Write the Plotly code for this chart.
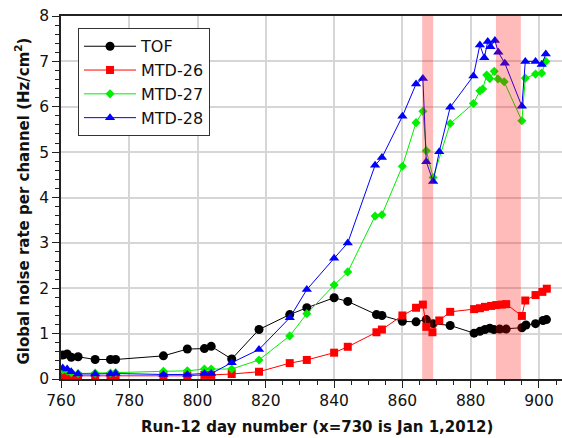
import plotly.graph_objects as go

# ---- data ----
tof_x = [760.5, 761.8, 763, 765, 770, 774.5, 776, 790, 797, 802, 804, 810, 818, 827, 832, 840, 844,
         852.4, 854, 860, 864, 867, 869, 874, 881, 882.7, 884.2, 885.6, 886.8, 888.5, 890.4, 895, 896.2,
         899, 901.2, 902.2]
tof_y = [0.53, 0.55, 0.48, 0.49, 0.43, 0.43, 0.43, 0.51, 0.66, 0.67, 0.72, 0.44, 1.09, 1.42, 1.57, 1.79, 1.71,
         1.42, 1.40, 1.27, 1.26, 1.31, 1.22, 1.18, 1.01, 1.05, 1.09, 1.12, 1.09, 1.10, 1.10, 1.13, 1.19,
         1.22, 1.29, 1.31]

m26_x = [760.5, 761.8, 763, 765, 770, 774.5, 776, 790, 797, 802, 804, 810, 818, 827, 832, 840, 844,
         852.4, 854, 860, 864, 866, 867, 868.8, 870.8, 874, 881, 882.7, 884.2, 886, 887.5, 889.1, 890.4,
         895, 896, 899, 901, 902.3]
m26_y = [0.07, 0.07, 0.06, 0.06, 0.06, 0.06, 0.06, 0.07, 0.07, 0.09, 0.09, 0.11, 0.16, 0.35, 0.42, 0.58, 0.71,
         1.03, 1.09, 1.40, 1.57, 1.64, 1.15, 1.03, 1.29, 1.48, 1.54, 1.56, 1.59, 1.61, 1.63, 1.64, 1.65,
         1.39, 1.73, 1.85, 1.92, 1.99]

m27_x = [760.5, 761.8, 763, 765, 770, 774.5, 776, 790, 797, 802, 804, 810, 818, 827, 832, 840, 844,
         852, 854, 860, 864, 866, 867, 869, 874, 880.8, 882.7, 883.5, 884.7, 885.6, 886.9, 888, 889.8,
         895, 896, 899, 900.8, 902]
m27_y = [0.20, 0.18, 0.14, 0.12, 0.13, 0.13, 0.14, 0.17, 0.18, 0.22, 0.22, 0.22, 0.42, 0.95, 1.44, 2.07, 2.36,
         3.59, 3.62, 4.69, 5.65, 5.90, 5.03, 4.44, 5.63, 6.07, 6.35, 6.39, 6.70, 6.62, 6.78, 6.61, 6.55,
         5.69, 6.63, 6.72, 6.74, 7.00]

m28_x = [760.5, 761.8, 763, 765, 770, 774.5, 776, 790, 797, 802, 804, 810, 818, 827, 832, 840, 844,
         852, 854, 860, 864, 866, 867, 869, 870.8, 874, 880.8, 882.7, 884, 885, 885.8, 887.1, 888.1, 890,
         895, 896, 899, 900.8, 902]
m28_y = [0.24, 0.22, 0.16, 0.11, 0.11, 0.11, 0.12, 0.10, 0.10, 0.12, 0.12, 0.36, 0.65, 1.35, 1.97, 2.66, 3.00,
         4.71, 4.88, 5.79, 6.50, 6.62, 4.79, 4.35, 5.01, 5.99, 6.68, 7.36, 7.08, 7.44, 7.32, 7.46, 7.20, 6.96,
         6.01, 7.00, 7.00, 6.93, 7.16]

bands = [(865.8, 869.0), (887.4, 894.7)]

x_ticks = [760, 780, 800, 820, 840, 860, 880, 900]
y_ticks = [0, 1, 2, 3, 4, 5, 6, 7, 8]

FONT = "DejaVu Sans"

fig = go.Figure()
fig.add_trace(go.Scatter(x=tof_x, y=tof_y, name="TOF", mode="lines+markers",
                         line=dict(color="black", width=1),
                         marker=dict(symbol="circle", size=9, color="black")))
fig.add_trace(go.Scatter(x=m26_x, y=m26_y, name="MTD-26", mode="lines+markers",
                         line=dict(color="red", width=1),
                         marker=dict(symbol="square", size=8, color="red")))
fig.add_trace(go.Scatter(x=m27_x, y=m27_y, name="MTD-27", mode="lines+markers",
                         line=dict(color="#00ee00", width=1),
                         marker=dict(symbol="diamond", size=7, color="#00ee00")))
fig.add_trace(go.Scatter(x=m28_x, y=m28_y, name="MTD-28", mode="lines+markers",
                         line=dict(color="blue", width=1),
                         marker=dict(symbol="triangle-up", size=9, color="blue")))

for x0, x1 in bands:
    fig.add_shape(type="rect", xref="x", yref="paper", x0=x0, x1=x1, y0=0, y1=1,
                  fillcolor="rgba(255,0,0,0.27)", line=dict(width=0), layer="above")

fig.update_layout(
    width=562, height=438,
    margin=dict(l=61, r=0, t=16, b=59),
    paper_bgcolor="white", plot_bgcolor="white",
    font=dict(family=FONT, size=15, color="#111"),
    showlegend=True,
    legend=dict(x=0.034, y=0.966, xanchor="left", yanchor="top",
                bgcolor="white", bordercolor="#333", borderwidth=1,
                font=dict(family=FONT, size=16, color="#111"),
                itemwidth=52, tracegroupgap=0),
    annotations=[
        dict(text="<b>Run-12 day number (x=730 is Jan 1,2012)</b>", xref="paper", yref="paper",
             x=(317 - 61) / 501, y=0, yshift=-48, xanchor="center", yanchor="middle",
             showarrow=False, font=dict(family=FONT, size=15, color="#111")),
        dict(text="<b>Global noise rate per channel (Hz/cm<sup>2</sup>)</b>", xref="paper", yref="paper",
             x=0, xshift=-39, y=0.5, yshift=-4, xanchor="center", yanchor="middle", textangle=-90,
             showarrow=False, font=dict(family=FONT, size=15, color="#111")),
    ],
)

fig.update_xaxes(range=[760, 906.75], tickvals=x_ticks, ticktext=[str(v) for v in x_ticks],
                 showgrid=True, gridcolor="#d6d6d6", gridwidth=1.5,
                 showline=True, linecolor="#222", linewidth=1.5, mirror=True,
                 ticks="outside", ticklen=7, tickcolor="#222", tickwidth=1,
                 minor=dict(dtick=5, tick0=760, ticks="outside", ticklen=4, tickcolor="#222", showgrid=False),
                 zeroline=False, tickfont=dict(size=15.5))
fig.update_yaxes(range=[0, 8], tickvals=y_ticks, ticktext=[str(v) for v in y_ticks],
                 showgrid=True, gridcolor="#d6d6d6", gridwidth=1.5,
                 showline=True, linecolor="#222", linewidth=1.5,
                 ticks="outside", ticklen=7, tickcolor="#222", tickwidth=1,
                 minor=dict(dtick=0.2, tick0=0, ticks="outside", ticklen=4, tickcolor="#222", showgrid=False),
                 zeroline=False, tickfont=dict(size=15.5))

fig.write_html("out.html")
